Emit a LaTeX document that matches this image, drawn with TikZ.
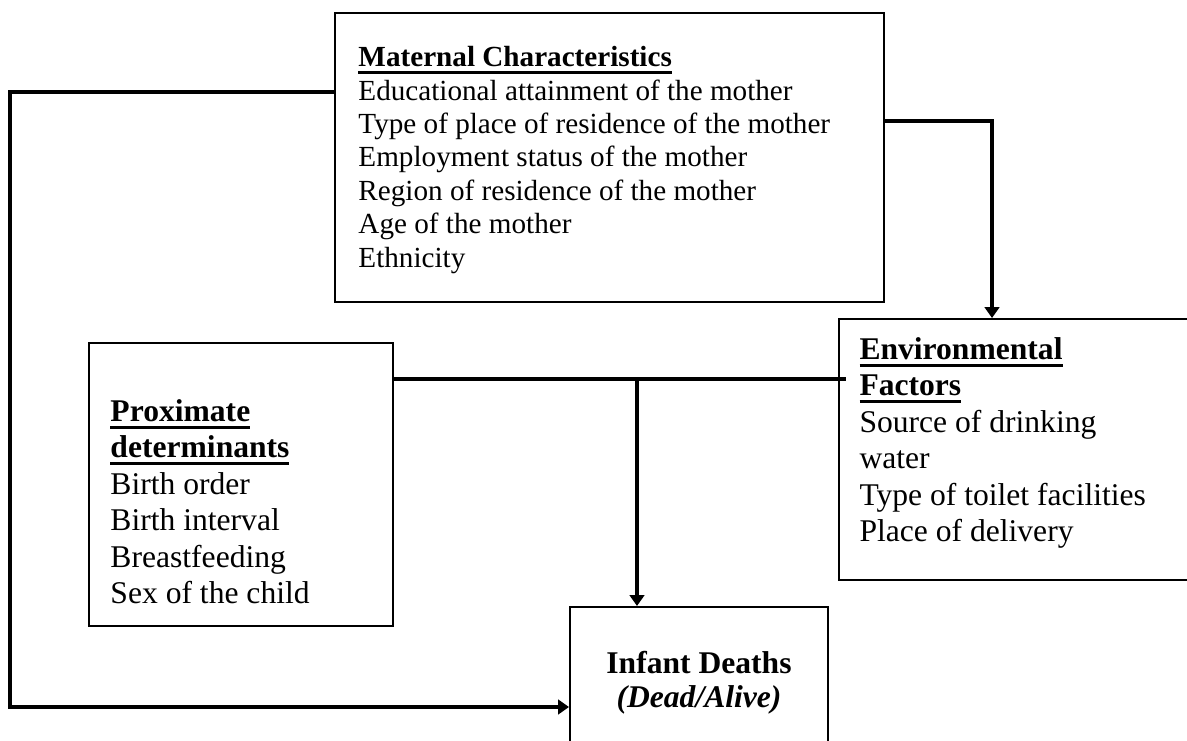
\documentclass[tikz,border=0pt]{standalone}
\usepackage{fontspec}
\setmainfont{Liberation Serif}
\usetikzlibrary{arrows.meta,positioning}

\newsavebox\headbox
\newcommand\ulhead[1]{\sbox\headbox{\bfseries #1}\rlap{\rule[-3.1pt]{\wd\headbox}{1.3pt}}\usebox\headbox}

\begin{document}
\begin{tikzpicture}[x=0.4115pt, y=-0.4115pt,
    box/.style={draw, line width=0.8pt, inner sep=0pt},
    lst/.style={inner sep=0pt, align=left, anchor=north west,
      font=\fontsize{13}{15}\selectfont},
    link/.style={line width=1.4pt},
    >={Triangle[length=4.5pt,width=6pt]}]
  \clip (0,0) rectangle (1187,740);
  % Boxes
  \node[box, minimum width=225.9pt, minimum height=118.9pt] (mat) at (609.5,157.5) {};
  \node[box, minimum width=125.1pt, minimum height=116.5pt] (prox) at (241,484.5) {};
  \node[box, minimum width=148.6pt, minimum height=107.4pt] (env) at (1019.5,449.5) {};
  \node[box, minimum width=106.2pt, minimum height=63pt] (inf) at (699,683.5) {};
  % Texts
  \node[lst, font=\fontsize{12}{13.74}\selectfont] (mattxt) at (358,46)
    {\ulhead{Maternal Characteristics}\\
     Educational attainment of the mother\\
     Type of place of residence of the mother\\
     Employment status of the mother\\
     Region of residence of the mother\\
     Age of the mother\\
     Ethnicity};
  \node[lst] (proxtxt) at (110,399)
    {\ulhead{Proximate}\\\ulhead{determinants}\\
     Birth order\\Birth interval\\Breastfeeding\\Sex of the child};
  \node[lst] (envtxt) at (859,337)
    {\ulhead{Environmental}\\\ulhead{Factors}\\
     Source of drinking\\water\\Type of toilet facilities\\Place of delivery};
  \node[lst, align=center, anchor=north, font=\fontsize{13}{14}\selectfont\bfseries]
    (inftxt) at (699,651) {Infant Deaths\\\textit{(Dead/Alive)}};
  % Connectors
  \coordinate (junc) at (637,379);
  \draw[link,->] (mat.west |- 0,92) -| (10,707) -- (inf.west |- 0,707);
  \draw[link,->] (mat.east |- 0,121) -| (env.north -| 992,0);
  \draw[link] (prox.east |- junc) -- ([xshift=3.3pt]env.west |- junc);
  \draw[link,->] (junc) -- (inf.north -| junc);
\end{tikzpicture}
\end{document}
